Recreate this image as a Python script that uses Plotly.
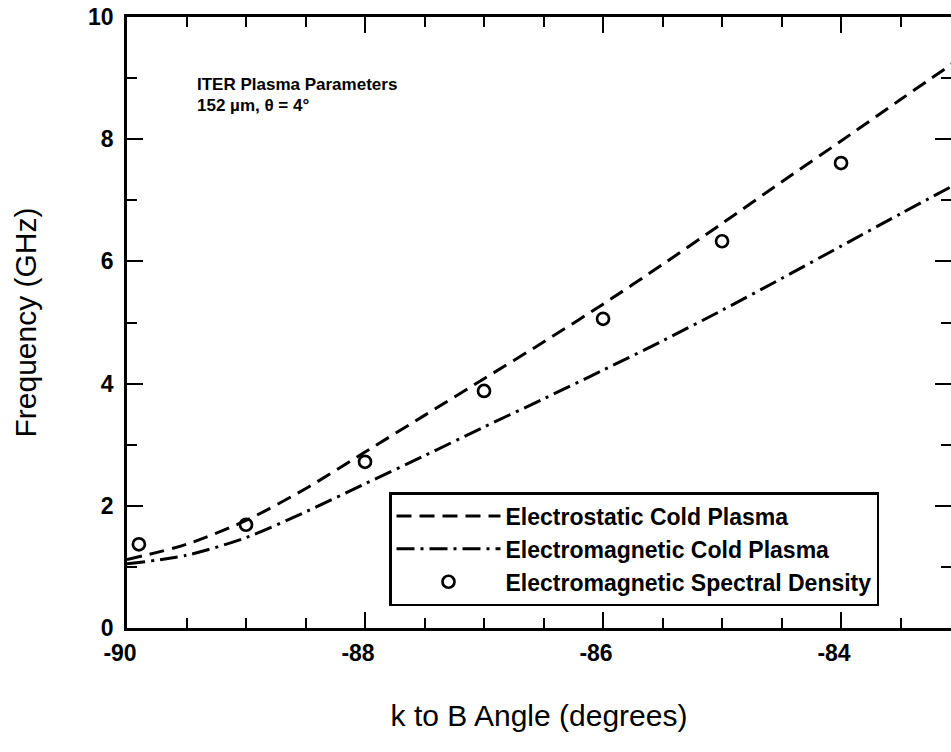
import plotly.graph_objects as go

# ---- data ----
angle_curve = [-90, -89.5, -89, -88.5, -88, -87.5, -87, -86.5, -86, -85.5, -85, -84.5, -84, -83.5, -83]
electrostatic = [1.12, 1.37, 1.76, 2.28, 2.88, 3.48, 4.08, 4.68, 5.30, 5.95, 6.62, 7.30, 7.97, 8.65, 9.32]
electromagnetic = [1.05, 1.19, 1.48, 1.90, 2.36, 2.82, 3.29, 3.75, 4.22, 4.70, 5.20, 5.72, 6.25, 6.78, 7.30]
angle_points = [-89.9, -89, -88, -87, -86, -85, -84]
spectral_density = [1.37, 1.69, 2.72, 3.88, 5.06, 6.33, 7.61]

x_ticks = [-90, -88, -86, -84]
y_ticks = [0, 2, 4, 6, 8, 10]

BOLD = "Liberation Sans, Arial, sans-serif"
REG = "Liberation Sans, Arial, sans-serif"

fig = go.Figure()
fig.add_trace(go.Scatter(
    x=angle_curve, y=electrostatic, mode="lines", legendgroup="a",
    name="Electrostatic Cold Plasma",
    line=dict(color="black", width=3, dash="15px,8px", shape="spline", smoothing=0.8),
))
fig.add_trace(go.Scatter(
    x=angle_curve, y=electromagnetic, mode="lines", legendgroup="b",
    name="Electromagnetic Cold Plasma",
    line=dict(color="black", width=3, dash="18px,6px,3px,6px", shape="spline", smoothing=0.8),
))
fig.add_trace(go.Scatter(
    x=angle_points, y=spectral_density, mode="markers", legendgroup="c",
    name="Electromagnetic Spectral Density",
    marker=dict(symbol="circle-open", size=12, color="black", line=dict(width=2.7, color="black")),
    cliponaxis=False,
))

axis_common = dict(
    showgrid=False, zeroline=False, showline=True, linecolor="black", linewidth=2.5,
    mirror="ticks", ticks="inside", ticklen=16, tickwidth=2, tickcolor="black",
    tickfont=dict(family=BOLD, size=23, color="black", weight="bold"),
    ticklabeloverflow="allow",
)

fig.update_xaxes(
    range=[-90, -83.076], tickmode="array", tickvals=x_ticks,
    ticktext=[str(v) for v in x_ticks],
    minor=dict(dtick=0.5, ticks="inside", ticklen=10, tickwidth=2, tickcolor="black"),
    ticklabelstandoff=3, ticklabelshift=-7,
    title=dict(text="k to B Angle (degrees)", font=dict(family=REG, size=30, color="black"), standoff=40),
    **axis_common,
)
fig.update_yaxes(
    range=[0, 10], tickmode="array", tickvals=y_ticks,
    ticktext=[str(v) for v in y_ticks],
    minor=dict(dtick=1, ticks="inside", ticklen=10, tickwidth=2, tickcolor="black"),
    ticklabelstandoff=6,
    title=dict(text="Frequency (GHz)", font=dict(family=REG, size=30, color="black"), standoff=43),
    **axis_common,
)

fig.add_annotation(
    xref="paper", yref="paper", x=0.083, y=(628 - 85) / 611, xanchor="left", yanchor="middle",
    text="ITER Plasma Parameters", showarrow=False,
    font=dict(family=BOLD, size=17, color="black", weight="bold"),
)
fig.add_annotation(
    xref="paper", yref="paper", x=0.083, y=(628 - 106) / 611, xanchor="left", yanchor="middle",
    text="152 µm, θ = 4°", showarrow=False,
    font=dict(family=BOLD, size=17, color="black", weight="bold"),
)

fig.update_layout(
    width=951, height=752,
    margin=dict(l=127, r=0, t=17, b=124, autoexpand=False),
    paper_bgcolor="white", plot_bgcolor="white",
    showlegend=True,
    legend=dict(
        x=(389 - 127) / 824, y=(628 - 492) / 611, xanchor="left", yanchor="top",
        bordercolor="black", borderwidth=2.5, bgcolor="white",
        font=dict(family=BOLD, size=23, color="black", weight="bold"),
        itemwidth=104, tracegroupgap=0,
    ),
)

# remove the browser's default 8px body margin so the figure sits at the page origin
fig.write_html(
    "out.html",
    config={"displayModeBar": False},
    post_script="document.body.style.margin='0px';document.body.style.overflow='hidden';",
)
